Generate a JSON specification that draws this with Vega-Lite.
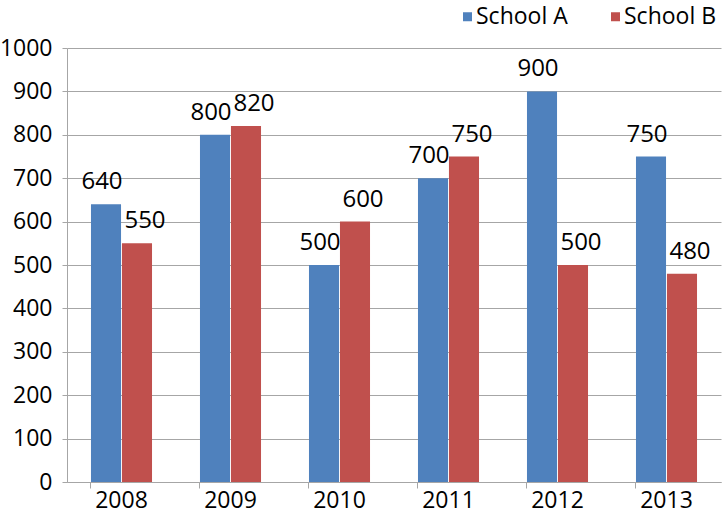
{
  "$schema": "https://vega.github.io/schema/vega-lite/v6.json",
  "width": 654,
  "height": 434,
  "autosize": {"type": "none"},
  "padding": {"left": 67, "top": 48, "right": 3, "bottom": 32},
  "background": "white",
  "config": {
    "view": {"stroke": null},
    "font": "Open Sans"
  },
  "data": {
    "values": [
      {"year": "2008", "school": "School A", "value": 640},
      {"year": "2008", "school": "School B", "value": 550},
      {"year": "2009", "school": "School A", "value": 800},
      {"year": "2009", "school": "School B", "value": 820},
      {"year": "2010", "school": "School A", "value": 500},
      {"year": "2010", "school": "School B", "value": 600},
      {"year": "2011", "school": "School A", "value": 700},
      {"year": "2011", "school": "School B", "value": 750},
      {"year": "2012", "school": "School A", "value": 900},
      {"year": "2012", "school": "School B", "value": 500},
      {"year": "2013", "school": "School A", "value": 750},
      {"year": "2013", "school": "School B", "value": 480}
    ]
  },
  "encoding": {
    "x": {
      "field": "year",
      "type": "nominal",
      "scale": {"paddingInner": 0.44, "paddingOuter": 0.22},
      "axis": {
        "title": null,
        "labelAngle": 0,
        "labelFontSize": 23,
        "labelColor": "#000000",
        "labelFont": "Open Sans",
        "labelPadding": 1,
        "bandPosition": 0,
        "tickSize": 6,
        "tickColor": "#A6A6A6",
        "domainColor": "#A6A6A6",
        "grid": false
      }
    },
    "xOffset": {"field": "school", "type": "nominal", "scale": {"paddingInner": 0.03}},
    "y": {
      "field": "value",
      "type": "quantitative",
      "scale": {"domain": [0, 1000], "nice": false},
      "axis": {
        "title": null,
        "format": "d",
        "values": [0, 100, 200, 300, 400, 500, 600, 700, 800, 900, 1000],
        "labelFontSize": 23,
        "labelColor": "#000000",
        "labelFont": "Open Sans",
        "labelPadding": 10,
        "tickSize": 5,
        "tickColor": "#A6A6A6",
        "domainColor": "#A6A6A6",
        "gridColor": "#A6A6A6",
        "grid": true
      }
    }
  },
  "layer": [
    {
      "mark": {"type": "bar"},
      "encoding": {
        "color": {
          "field": "school",
          "type": "nominal",
          "scale": {"domain": ["School A", "School B"], "range": ["#4F81BD", "#C0504D"]},
          "legend": {
            "title": null,
            "orient": "none",
            "direction": "horizontal",
            "legendX": 389,
            "legendY": -43,
            "symbolType": "square",
            "symbolSize": 81,
            "symbolStrokeWidth": 0,
            "labelFontSize": 23,
            "labelFont": "Open Sans",
            "labelColor": "#000000",
            "labelOffset": -3,
            "columnPadding": 36,
            "labelLimit": 300
          }
        }
      }
    },
    {
      "transform": [{"filter": "datum.school === 'School A'"}],
      "mark": {"type": "text", "dy": -15, "dx": -4, "baseline": "alphabetic", "fontSize": 24, "font": "Open Sans", "color": "#000000"},
      "encoding": {"text": {"field": "value", "type": "quantitative"}}
    },
    {
      "transform": [{"filter": "datum.school === 'School B'"}],
      "mark": {"type": "text", "dy": -15, "dx": 8, "baseline": "alphabetic", "fontSize": 24, "font": "Open Sans", "color": "#000000"},
      "encoding": {"text": {"field": "value", "type": "quantitative"}}
    }
  ]
}
